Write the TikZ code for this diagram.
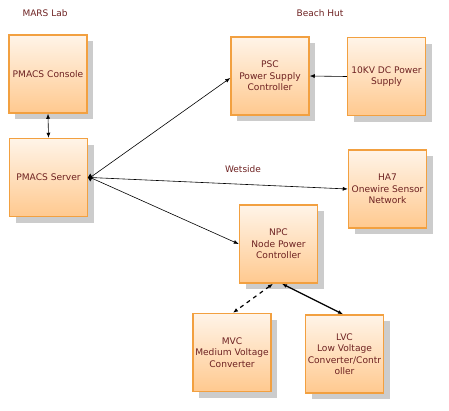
\documentclass[tikz,border=0pt]{standalone}
\usepackage{fontspec}
\setmainfont{DejaVu Sans}
\usetikzlibrary{arrows.meta,shapes.geometric}
\definecolor{txt}{HTML}{6E2222}
\definecolor{boxborder}{HTML}{F2A040}
\definecolor{boxtop}{HTML}{FFF4E8}
\definecolor{boxbot}{HTML}{FFC98F}
\definecolor{shadowc}{HTML}{CCCCCC}
\tikzset{
  blk/.style={line width=1.5pt, top color=boxtop, bottom color=boxbot,
    minimum width=78pt, minimum height=78pt, inner sep=1pt, align=center,
    text=txt, font=\fontsize{9.1}{11.5}\selectfont,
    preaction={draw=none, fill=shadowc, transform canvas={xshift=6pt,yshift=-6pt}},
    postaction={draw=boxborder}},
  lbl/.style={text=txt, font=\fontsize{9}{11}\selectfont, inner sep=0pt},
  thin/.style={line width=0.6pt, draw=black},
  tip/.style={-{Latex[length=5pt,width=4pt]}},
  tips/.style={{Latex[length=5pt,width=4pt]}-{Latex[length=5pt,width=4pt]}},
  dia/.style={diamond, fill=black, inner sep=0pt, minimum width=5pt, minimum height=8pt}
}
\begin{document}
\begin{tikzpicture}[x=1pt,y=-1pt]
\useasboundingbox (0,0) rectangle (449,410);
\node[lbl] (marslab) at (45,13) {MARS Lab};
\node[lbl] (beachhut) at (320,13) {Beach Hut};
\node[lbl] (wetside) at (243,169) {Wetside};

\node[blk] (console) at (48,74) {PMACS Console};
\node[blk] (server) at (48.5,177.5) {PMACS Server};
\node[blk] (psc) at (270,76) {PSC\\Power Supply\\Controller};
\node[blk] (dc) at (386.5,76.5) {10KV DC Power\\Supply};
\node[blk] (ha7) at (387.5,189) {HA7\\Onewire Sensor\\Network};
\node[blk] (npc) at (278.5,244) {NPC\\Node Power\\Controller};
\node[blk] (mvc) at (232,352.5) {MVC\\Medium Voltage\\Converter};
\node[blk] (lvc) at (344.5,354) {LVC\\Low Voltage\\Converter/Contr\\oller};

\node[dia] (sd) at ([xshift=2pt]server.east) {};

\draw[thin,tips] (console.south) -- (server.north);
\draw[thin,tip] (sd.center) -- ([yshift=-2pt]psc.west);
\draw[thin,tip] (sd.center) -- (ha7.west);
\draw[thin,tip] (sd.center) -- (npc.west);
\draw[thin,tip] (dc.west) -- (psc.east);
\draw[line width=1.2pt,tips] ([xshift=3.5pt]npc.south) -- ([xshift=-1.5pt]lvc.north);
\draw[line width=1.2pt,tips,dash pattern=on 4pt off 4pt] ([xshift=-5.5pt]npc.south) -- ([xshift=1pt]mvc.north);
\end{tikzpicture}
\end{document}
